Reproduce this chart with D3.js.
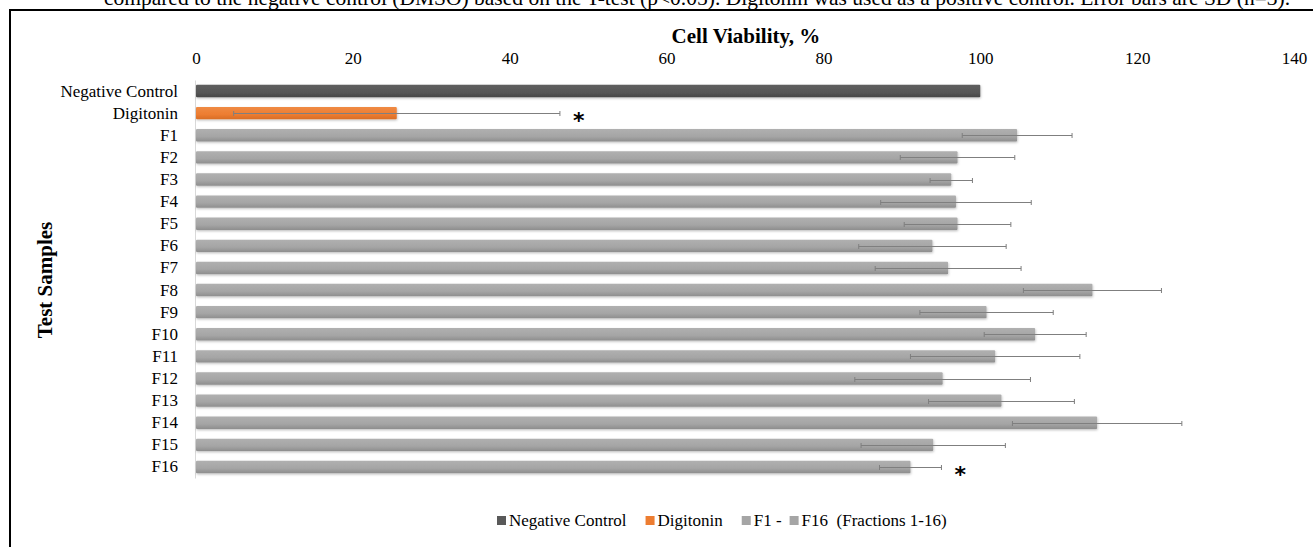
<!DOCTYPE html>
<html>
<head>
<meta charset="utf-8">
<script src="https://cdn.jsdelivr.net/npm/d3@7"></script>
<style>
  body { margin: 0; background: #fff; }
  svg { display: block; }
  svg text { font-family: "Liberation Serif", "Times New Roman", serif; fill: #000; }
</style>
</head>
<body>
<svg width="1313" height="547"></svg>
<script>
var categories = ["Negative Control", "Digitonin", "F1", "F2", "F3", "F4", "F5", "F6", "F7", "F8",
  "F9", "F10", "F11", "F12", "F13", "F14", "F15", "F16"];
var viability = [100, 25.6, 104.7, 97.1, 96.3, 96.9, 97.1, 93.9, 95.9, 114.3,
  100.8, 107, 101.9, 95.2, 102.7, 114.9, 94, 91.1];
var sd = [0, 20.8, 7, 7.3, 2.7, 9.6, 6.8, 9.4, 9.3, 8.8,
  8.5, 6.5, 10.8, 11.2, 9.3, 10.8, 9.2, 3.95];
var significant = ["Digitonin", "F16"];
var xTicks = [0, 20, 40, 60, 80, 100, 120, 140];
var legendLabels = ["Negative Control", "Digitonin", "F1 -", "F16  (Fractions 1-16)"];

var width = 1313, height = 547;
var margin = { left: 196, right: 19, top: 80, bottom: 69 };

var svg = d3.select('svg');

// gradients, excel-ish shaded bars
var defs = svg.append('defs');
function grad(id, top, mid, bot) {
  var g = defs.append('linearGradient').attr('id', id)
    .attr('x1', 0).attr('y1', 0).attr('x2', 0).attr('y2', 1);
  g.append('stop').attr('offset', '0%').attr('stop-color', top);
  g.append('stop').attr('offset', '60%').attr('stop-color', mid);
  g.append('stop').attr('offset', '100%').attr('stop-color', bot);
}
grad('gNeg', '#5e5e5e', '#575757', '#474747');
grad('gDig', '#ef8a44', '#ed7d31', '#d86d26');
grad('gF', '#b0b0b0', '#a5a5a5', '#8e8e8e');

var shadow = defs.append('filter').attr('id', 'sh')
  .attr('x', '-2%').attr('y', '-40%').attr('width', '104%').attr('height', '200%');
shadow.append('feDropShadow').attr('dx', 0.5).attr('dy', 1.2)
  .attr('stdDeviation', 1).attr('flood-color', '#000').attr('flood-opacity', 0.25);

// caption (cut off at top of the image, as in the source)
svg.append('text')
  .attr('x', 697).attr('y', 5)
  .attr('text-anchor', 'middle')
  .style('font-size', '21.5px')
  .text('compared to the negative control (DMSO) based on the T-test (p<0.05). Digitonin was used as a positive control. Error bars are SD (n=3).');

// frame
svg.append('line').attr('x1', 9).attr('x2', width).attr('y1', 10).attr('y2', 10)
  .attr('stroke', '#000').attr('stroke-width', 2);
svg.append('line').attr('x1', 10).attr('x2', 10).attr('y1', 9).attr('y2', height)
  .attr('stroke', '#000').attr('stroke-width', 2);

var xScale = d3.scaleLinear()
  .domain([0, 140])
  .range([margin.left, width - margin.right]);

var yScale = d3.scaleBand()
  .domain(categories)
  .range([margin.top, height - margin.bottom])
  .paddingInner(0.44)
  .paddingOuter(0.22);

var xAxis = d3.axisTop(xScale).tickValues(xTicks).tickSize(0).tickPadding(0);
var gx = svg.append('g')
  .attr('transform', 'translate(0,58)')
  .call(xAxis);
gx.attr('font-family', null).attr('font-size', null);
gx.select('.domain').remove();
gx.selectAll('text').style('font-size', '17px').attr('dy', '0.35em');

var yAxis = d3.axisLeft(yScale).tickSize(0).tickPadding(17);
var gy = svg.append('g')
  .attr('transform', 'translate(' + (margin.left - 1) + ',0)')
  .call(yAxis);
gy.attr('font-family', null).attr('font-size', null);
gy.select('.domain').attr('stroke', '#d9d9d9');
gy.selectAll('text').style('font-size', '17px');

// axis titles
svg.append('text')
  .attr('x', 746).attr('y', 43)
  .attr('text-anchor', 'middle')
  .style('font-size', '21px').style('font-weight', 'bold')
  .text('Cell Viability, %');

svg.append('text')
  .attr('transform', 'translate(52,' + 280 + ') rotate(-90)')
  .attr('text-anchor', 'middle')
  .style('font-size', '21px').style('font-weight', 'bold')
  .text('Test Samples');

function fillFor(i) {
  if (i === 0) return 'url(#gNeg)';
  if (i === 1) return 'url(#gDig)';
  return 'url(#gF)';
}

svg.selectAll('.bar')
  .data(viability)
  .enter()
  .append('rect')
  .attr('class', 'bar')
  .attr('x', xScale(0))
  .attr('y', function(d, i) { return yScale(categories[i]); })
  .attr('width', function(d) { return xScale(d) - xScale(0); })
  .attr('height', yScale.bandwidth())
  .attr('rx', 1)
  .attr('fill', function(d, i) { return fillFor(i); })
  .attr('filter', 'url(#sh)');

// error bars
var rows = viability.map(function(d, i) { return { v: d, s: sd[i], c: categories[i] }; });
var eb = svg.selectAll('.err')
  .data(rows.filter(function(d) { return d.s > 0; }))
  .enter()
  .append('g')
  .attr('class', 'err')
  .attr('stroke', '#7f7f7f')
  .attr('stroke-width', 1);

function cy(d) { return Math.round(yScale(d.c) + yScale.bandwidth() / 2) + 0.5; }

eb.append('line')
  .attr('x1', function(d) { return xScale(d.v - d.s); })
  .attr('x2', function(d) { return xScale(d.v + d.s); })
  .attr('y1', cy).attr('y2', cy);
eb.append('line')
  .attr('x1', function(d) { return xScale(d.v - d.s); })
  .attr('x2', function(d) { return xScale(d.v - d.s); })
  .attr('y1', function(d) { return cy(d) - 2.5; })
  .attr('y2', function(d) { return cy(d) + 2.5; });
eb.append('line')
  .attr('x1', function(d) { return xScale(d.v + d.s); })
  .attr('x2', function(d) { return xScale(d.v + d.s); })
  .attr('y1', function(d) { return cy(d) - 2.5; })
  .attr('y2', function(d) { return cy(d) + 2.5; });

// significance stars
svg.selectAll('.star')
  .data(rows.filter(function(d) { return significant.indexOf(d.c) >= 0; }))
  .enter()
  .append('text')
  .attr('class', 'star')
  .attr('x', function(d) { return xScale(d.v + d.s) + 13; })
  .attr('y', function(d) { return yScale(d.c) + yScale.bandwidth() / 2 + 15; })
  .style('font-size', '22px')
  .style('font-weight', 'bold')
  .style('font-family', '"DejaVu Sans", sans-serif')
  .text('*');

// legend
var legendColors = ['#595959', '#ed7d31', '#a5a5a5', '#a5a5a5'];
var legend = svg.append('g').attr('transform', 'translate(497,526)');
var lx = 0;
legendLabels.forEach(function(t, i) {
  legend.append('rect').attr('x', lx).attr('y', -10).attr('width', 9).attr('height', 9)
    .attr('fill', legendColors[i]);
  var tx = legend.append('text').attr('x', lx + 12).attr('y', 0)
    .style('font-size', '17px').style('white-space', 'pre').text(t);
  var w = tx.node().getComputedTextLength();
  lx += 12 + w + (i === 2 ? 8 : 19);
});
</script>
</body>
</html>
